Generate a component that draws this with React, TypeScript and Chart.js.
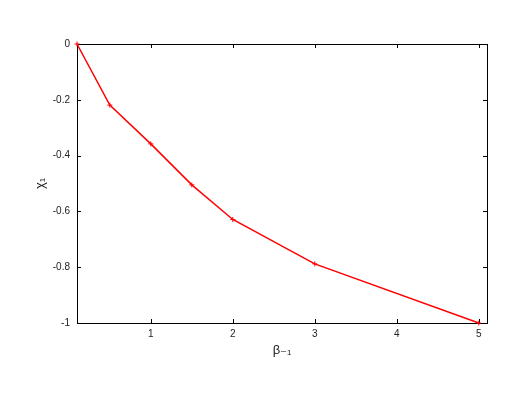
import React, { useEffect, useRef } from "react";
import { Chart, registerables } from "chart.js";

Chart.register(...registerables);

const betaValues = [0.1, 0.5, 1, 1.5, 2, 3, 5];
const chiValues = [0, -0.219, -0.358, -0.505, -0.629, -0.788, -1.0];
const xTicks = [1, 2, 3, 4, 5];
const yTicks = [0, -0.2, -0.4, -0.6, -0.8, -1];
const xRange = [0.1, 5.1];
const yRange = [-1, 0];
const xTitle = "β₋₁";
const yTitle = "χ₁";

const framePlugin = {
  id: "gnuplotFrame",
  beforeDatasetsDraw(chart: any) {
    const { ctx, chartArea } = chart;
    const { left, right, top, bottom } = chartArea;
    const xs = chart.scales.x;
    const ys = chart.scales.y;
    const len = 4;
    ctx.save();
    ctx.strokeStyle = "#000";
    ctx.lineWidth = 1;
    ctx.beginPath();
    xTicks.forEach((v) => {
      const px = Math.round(xs.getPixelForValue(v)) + 0.5;
      ctx.moveTo(px, bottom);
      ctx.lineTo(px, bottom - len);
      ctx.moveTo(px, top);
      ctx.lineTo(px, top + len);
    });
    yTicks.forEach((v) => {
      const py = Math.round(ys.getPixelForValue(v)) + 0.5;
      ctx.moveTo(left, py);
      ctx.lineTo(left + len, py);
      ctx.moveTo(right, py);
      ctx.lineTo(right - len, py);
    });
    ctx.stroke();
    ctx.strokeRect(Math.round(left) + 0.5, Math.round(top) + 0.5, Math.round(right - left), Math.round(bottom - top));
    ctx.restore();
  },
};

export default function App() {
  const ref = useRef<HTMLCanvasElement | null>(null);

  useEffect(() => {
    document.body.style.margin = "0";
    const canvas = ref.current;
    if (!canvas) return;
    const chart = new Chart(canvas, {
      type: "line",
      data: {
        datasets: [
          {
            data: betaValues.map((b, i) => ({ x: b, y: chiValues[i] })),
            borderColor: "#ff0000",
            backgroundColor: "#ff0000",
            borderWidth: 1.5,
            pointStyle: "cross",
            pointRadius: 2.5,
            pointBorderWidth: 1,
            pointBorderColor: "#ff0000",
            tension: 0,
            fill: false,
            clip: false as any,
          },
        ],
      },
      options: {
        animation: false,
        responsive: false,
        maintainAspectRatio: false,
        layout: { padding: { top: 44, right: 31, left: 0, bottom: 0 } },
        plugins: {
          legend: { display: false },
          tooltip: { enabled: false },
        },
        scales: {
          x: {
            type: "linear",
            min: xRange[0],
            max: xRange[1],
            grid: { display: false, drawTicks: false },
            border: { display: false },
            afterBuildTicks: (s: any) => {
              s.ticks = xTicks.map((v) => ({ value: v }));
            },
            afterFit: (s: any) => {
              s.height = 77;
            },
            ticks: {
              padding: 5,
              maxRotation: 0,
              autoSkip: false,
              color: "#222",
              font: { family: "'Liberation Sans', Arial, sans-serif", size: 10 },
              callback: (v: any) => String(v),
            },
            title: {
              display: true,
              text: xTitle,
              color: "#222",
              font: { family: "'Liberation Sans', 'DejaVu Sans', sans-serif", size: 13 },
              padding: { top: 0, bottom: 42 },
            },
          },
          y: {
            type: "linear",
            min: yRange[0],
            max: yRange[1],
            grid: { display: false, drawTicks: false },
            border: { display: false },
            afterBuildTicks: (s: any) => {
              s.ticks = yTicks.map((v) => ({ value: v }));
            },
            afterFit: (s: any) => {
              s.width = 77;
            },
            ticks: {
              padding: 7,
              autoSkip: false,
              color: "#222",
              font: { family: "'Liberation Sans', Arial, sans-serif", size: 10 },
              callback: (v: any) => String(v),
            },
            title: {
              display: true,
              text: yTitle,
              color: "#222",
              font: { family: "'Liberation Sans', 'DejaVu Sans', sans-serif", size: 13 },
              padding: { top: 33, bottom: 0 },
            },
          },
        },
      },
      plugins: [framePlugin],
    });
    return () => chart.destroy();
  }, []);

  return (
    <div style={{ width: 518, height: 400 }}>
      <canvas ref={ref} width={518} height={400} style={{ display: "block", width: 518, height: 400 }} />
    </div>
  );
}
